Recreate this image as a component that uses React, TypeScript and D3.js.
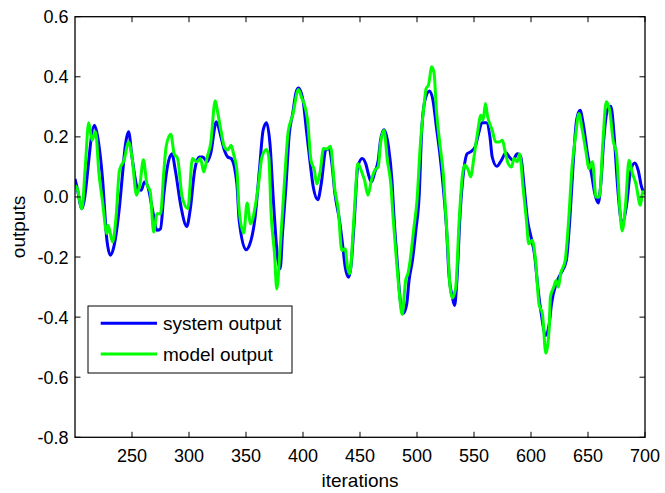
import React from "react";
import * as d3 from "d3";

const xTicks = [250, 300, 350, 400, 450, 500, 550, 600, 650, 700];
const yTicks = [0.6, 0.4, 0.2, 0, -0.2, -0.4, -0.6, -0.8];
const seriesNames = ["system output", "model output"];
const seriesColors = ["#0000ff", "#00ff00"];

const systemIter = [200,202,206,217,219,224,228,231,234,239,242,244,247,250,255,258,261,264,268,272,275,278,281,285,288,293,298,301,305,309,312,316,319,324,328,331,334,337,342,344,350,353,358,362,365,368,371,374,378,380,382,385,388,391,394,396,400,403,406,409,413,416,420,423,425,428,432,435,437,440,442,445,448,452,455,458,460,463,466,468,471,475,478,480,483,485,488,491,493,496,499,502,504,507,511,514,517,520,523,526,528,531,533,535,538,541,544,547,551,554,557,561,564,566,570,574,578,581,584,588,591,594,597,600,603,606,609,613,616,618,622,626,631,634,637,640,643,646,650,653,656,659,661,664,667,670,673,676,679,680,684,687,691,694,697,700];
const systemVal = [0.06,0.028,-0.039,0.239,0.217,0.067,-0.144,-0.194,-0.167,-0.033,0.089,0.167,0.217,0.133,0.028,0.022,0.05,0.033,-0.044,-0.111,-0.106,0.011,0.1,0.144,0.089,-0.033,-0.098,-0.044,0.089,0.133,0.133,0.117,0.144,0.25,0.2,0.156,0.133,0.128,0.044,-0.078,-0.176,-0.161,-0.067,0.1,0.222,0.247,0.178,-0.011,-0.211,-0.239,-0.122,0.033,0.211,0.278,0.35,0.363,0.322,0.222,0.122,0.033,-0.009,0.044,0.156,0.161,0.122,0.011,-0.078,-0.167,-0.233,-0.267,-0.233,-0.078,0.1,0.128,0.111,0.067,0.05,0.083,0.122,0.189,0.224,0.167,0.056,-0.078,-0.233,-0.333,-0.387,-0.356,-0.278,-0.211,-0.111,0.011,0.211,0.322,0.353,0.322,0.233,0.144,0.033,-0.111,-0.256,-0.333,-0.361,-0.278,-0.044,0.089,0.144,0.15,0.167,0.211,0.247,0.247,0.2,0.133,0.102,0.122,0.147,0.133,0.122,0.144,0.133,0.033,-0.078,-0.133,-0.189,-0.3,-0.389,-0.461,-0.422,-0.356,-0.289,-0.256,-0.211,-0.078,0.111,0.256,0.289,0.239,0.133,0.078,0.011,-0.02,0.033,0.2,0.289,0.302,0.2,0.033,-0.078,-0.087,-0.022,0.078,0.113,0.089,0.033,0.011];

const modelIter = [200,202,206,209,212,215,218,221,224,228,229,233,236,239,243,247,250,254,257,260,263,266,269,272,275,278,280,284,287,290,294,299,303,307,310,313,316,319,323,325,328,331,334,337,339,342,344,348,351,354,358,361,364,368,370,372,375,377,380,384,387,391,396,399,401,404,407,410,412,415,418,421,424,428,431,434,437,439,441,444,446,448,452,454,457,460,463,466,468,471,474,477,479,482,484,487,490,492,494,497,500,503,506,508,510,513,515,517,520,523,525,527,529,531,534,537,540,542,545,547,550,553,556,558,560,562,566,569,572,575,577,580,583,585,588,590,593,596,598,601,604,607,610,613,616,617,620,622,624,626,630,633,636,639,642,645,648,651,654,657,660,663,666,669,672,675,678,680,683,686,689,692,696,698,700];
const modelVal = [0.039,0.028,-0.039,0.1,0.247,0.189,0.217,0.078,-0.011,-0.122,-0.094,-0.15,-0.067,0.089,0.122,0.183,0.133,0.006,0.044,0.124,0.044,0.017,-0.117,-0.056,-0.056,0.089,0.169,0.209,0.144,0.128,0,-0.039,0.128,0.117,0.128,0.083,0.133,0.178,0.32,0.285,0.222,0.167,0.156,0.172,0.144,0.089,-0.044,-0.12,-0.02,-0.089,-0.033,0.044,0.133,0.158,0.133,-0.056,-0.189,-0.306,-0.167,0.067,0.217,0.272,0.358,0.328,0.311,0.256,0.122,0.089,0.044,0.083,0.161,0.16,0.169,0.022,-0.044,-0.178,-0.172,-0.233,-0.256,-0.111,0.011,0.111,0.078,0.056,0.006,0.056,0.089,0.1,0.178,0.222,0.122,0.044,-0.067,-0.211,-0.3,-0.391,-0.278,-0.256,-0.211,-0.111,-0.011,0.178,0.3,0.361,0.372,0.433,0.411,0.289,0.178,0.078,-0.044,-0.167,-0.3,-0.336,-0.3,-0.078,0.078,0.106,0.089,0.067,0.133,0.211,0.272,0.256,0.311,0.267,0.222,0.183,0.183,0.189,0.156,0.111,0.1,0.128,0.117,0.144,0.033,-0.078,-0.156,-0.144,-0.211,-0.356,-0.389,-0.52,-0.433,-0.333,-0.3,-0.278,-0.3,-0.256,-0.211,-0.078,0.1,0.2,0.278,0.222,0.156,0.094,0.117,0,0,0.178,0.317,0.289,0.189,0.144,-0.044,-0.113,-0.022,0.122,0.078,0.044,-0.028,0.017,0.017];

const W = 665;
const H = 493;
const left = 75, right = 645, top = 16.7, bottom = 437.3;
const FONT = "'Liberation Sans', Arial, Helvetica, sans-serif";

const fmtY = (t: number) => d3.format(".1f")(t).replace("\u2212", "-");

export default function App() {
  const x = d3.scaleLinear().domain([200, 700]).range([left, right]);
  const y = d3.scaleLinear().domain([-0.8, 0.6]).range([bottom, top]);
  const line = d3
    .line<[number, number]>()
    .x((d) => x(d[0]))
    .y((d) => y(d[1]))
    .curve(d3.curveMonotoneX);
  const sys: [number, number][] = systemIter.map((v, i) => [v, systemVal[i]]);
  const mod: [number, number][] = modelIter.map((v, i) => [v, modelVal[i]]);
  const tl = 5.5;

  return (
    <svg
      width={W}
      height={H}
      style={{ position: "absolute", left: 0, top: 0, background: "#fff" }}
      fontFamily={FONT}
    >
      <rect x={0} y={0} width={W} height={H} fill="#fff" />
      <defs>
        <clipPath id="plotclip">
          <rect x={left} y={top} width={right - left} height={bottom - top} />
        </clipPath>
      </defs>
      <g clipPath="url(#plotclip)">
        <path d={line(sys) || ""} fill="none" stroke={seriesColors[0]} strokeWidth={3} strokeLinejoin="round" />
        <path d={line(mod) || ""} fill="none" stroke={seriesColors[1]} strokeWidth={3} strokeLinejoin="round" />
      </g>
      <rect x={left} y={top} width={right - left} height={bottom - top} fill="none" stroke="#000" strokeWidth={1.3} />
      {xTicks.map((t) => (
        <g key={"x" + t}>
          <line x1={x(t)} x2={x(t)} y1={bottom} y2={bottom - tl} stroke="#000" strokeWidth={1} />
          <line x1={x(t)} x2={x(t)} y1={top} y2={top + tl} stroke="#000" strokeWidth={1} />
          <text x={x(t)} y={461.5} textAnchor="middle" fontSize={18} fill="#000">
            {t}
          </text>
        </g>
      ))}
      {yTicks.map((t) => (
        <g key={"y" + t}>
          <line x1={left} x2={left + tl} y1={y(t)} y2={y(t)} stroke="#000" strokeWidth={1} />
          <line x1={right} x2={right - tl} y1={y(t)} y2={y(t)} stroke="#000" strokeWidth={1} />
          <text x={68.5} y={y(t) + 6.5} textAnchor="end" fontSize={18} fill="#000">
            {fmtY(t)}
          </text>
        </g>
      ))}
      <text x={(left + right) / 2} y={487} textAnchor="middle" fontSize={19} fill="#000">
        iterations
      </text>
      <text
        transform={`translate(${25},${(top + bottom) / 2}) rotate(-90)`}
        textAnchor="middle"
        fontSize={19}
        fill="#000"
      >
        outputs
      </text>
      <g>
        <rect x={88} y={306} width={204} height={67} fill="#fff" stroke="#000" strokeWidth={1} />
        {seriesNames.map((n, i) => {
          const ly = 323.3 + i * 30.7;
          return (
            <g key={n}>
              <line x1={100.7} x2={157} y1={ly} y2={ly} stroke={seriesColors[i]} strokeWidth={3} />
              <text x={163} y={ly + 6.5} fontSize={19} fill="#000">
                {n}
              </text>
            </g>
          );
        })}
      </g>
    </svg>
  );
}
